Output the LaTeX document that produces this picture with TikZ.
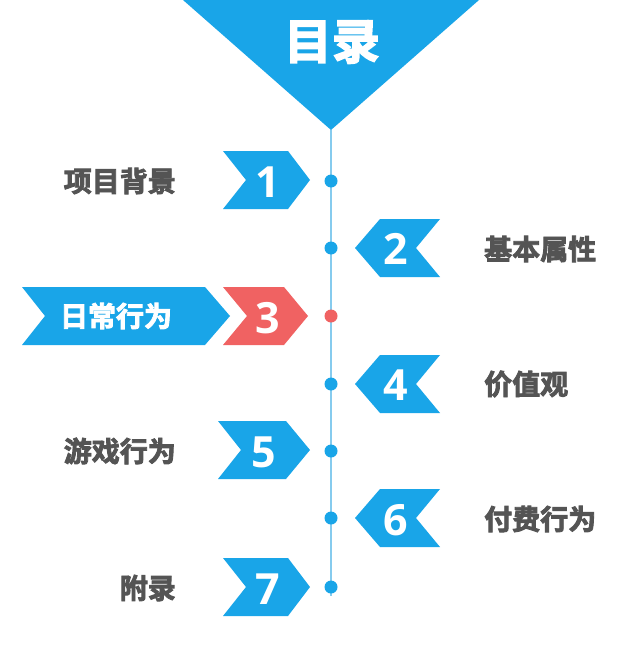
\documentclass[tikz,border=0pt]{standalone}
\usepackage{fontspec}
\setmainfont{Open Sans}
\newfontfamily\cjk{Noto Sans CJK SC Bold}[FakeBold=3]
\definecolor{mblue}{HTML}{19A5E8}
\definecolor{mred}{HTML}{F06262}
\definecolor{mline}{HTML}{86CBEE}
\definecolor{mtext}{HTML}{545454}
\tikzset{
  dotnode/.style={circle,fill=mblue,inner sep=0pt,minimum size=13pt},
  numtext/.style={text=white,font=\fontsize{43}{43}\selectfont\bfseries,inner sep=0pt},
  lefttext/.style={text=mtext,font=\cjk\fontsize{28}{28}\selectfont,anchor=east,inner sep=0pt},
  righttext/.style={text=mtext,font=\cjk\fontsize{28}{28}\selectfont,anchor=west,inner sep=0pt},
}
\newcommand{\rchev}[2]{\fill[#2] (223,#1-29) -- (288,#1-29) -- (310,#1) -- (288,#1+29) -- (223,#1+29) -- (246,#1) -- cycle;}
\newcommand{\lchev}[1]{\fill[mblue] (355,#1) -- (380,#1-29) -- (440,#1-29) -- (416,#1) -- (440,#1+29) -- (380,#1+29) -- cycle;}
\begin{document}
\begin{tikzpicture}[x=1pt,y=-1pt]
\useasboundingbox (0,0) rectangle (640,669);
\fill[white] (0,0) rectangle (640,669);
% title triangle
\fill[mblue] (183,0) -- (479,0) -- (331,130) -- cycle;
\coordinate (apex) at (331,130);
\node[text=white,font=\cjk\fontsize{48}{48}\selectfont,inner sep=0pt] (title) at (332,42) {目录};
% timeline line (drawn first, dots on top)
\coordinate (lineend) at (331,596);
\draw[mline,line width=1.2pt] (apex) -- (lineend);
% dots
\node[dotnode] (d1) at (331,181) {};
\node[dotnode] (d2) at (331,248) {};
\node[dotnode,fill=mred] (d3) at (331,316) {};
\node[dotnode] (d4) at (331,384) {};
\node[dotnode] (d5) at (331,451) {};
\node[dotnode] (d6) at (331,518) {};
\node[dotnode] (d7) at (331,587) {};
% chevrons
\rchev{180}{mblue}
\lchev{248}
\fill[mblue] (22,287) -- (205,287) -- (230,316) -- (205,345) -- (22,345) -- (45,316) -- cycle;
\fill[mred] (223,287) -- (284,287) -- (308,316) -- (284,345) -- (223,345) -- (247,316) -- cycle;
\lchev{384}
\fill[mblue] (218,421) -- (286,421) -- (310,450) -- (286,479) -- (218,479) -- (241,450) -- cycle;
\lchev{518}
\rchev{587}{mblue}
% numbers
\node[numtext] (n1) at (268,182) {1};
\node[numtext] (n2) at (396,249) {2};
\node[numtext] (n3) at (268,318) {3};
\node[numtext] (n4) at (396,385) {4};
\node[numtext] (n5) at (264,452) {5};
\node[numtext] (n6) at (396,520) {6};
\node[numtext] (n7) at (268,589) {7};
% labels
\node[lefttext] (t1) at (176,181) {项目背景};
\node[righttext] (t2) at (484,249) {基本属性};
\node[text=white,font=\cjk\fontsize{28}{28}\selectfont,inner sep=0pt] (t3) at (116,316) {日常行为};
\node[righttext] (t4) at (484,384) {价值观};
\node[lefttext] (t5) at (176,451) {游戏行为};
\node[righttext] (t6) at (484,519) {付费行为};
\node[lefttext] (t7) at (176,588) {附录};
\end{tikzpicture}
\end{document}
